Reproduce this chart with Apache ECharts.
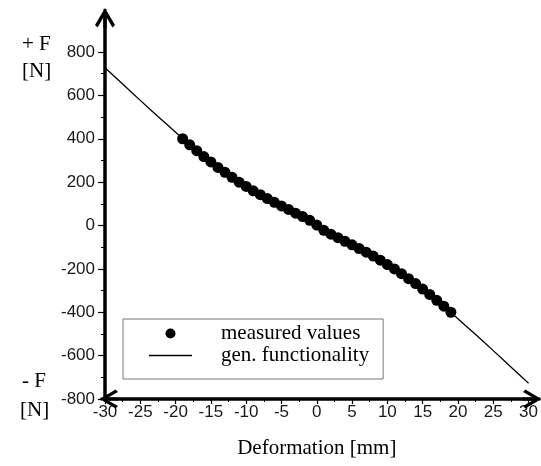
<!DOCTYPE html>
<html>
<head>
<meta charset="utf-8">
<title>force - deformation</title>
<script src="https://cdn.jsdelivr.net/npm/echarts@6/dist/echarts.min.js"></script>
<style>
  html, body { margin: 0; padding: 0; background: #fff; }
  #chart { width: 541px; height: 466px; }
</style>
</head>
<body>
<div id="chart"></div>
<script type="text/javascript">
    // measured points (deformation mm, force N)
    var measuredX = [-19, -18, -17, -16, -15, -14, -13, -12, -11, -10, -9, -8, -7, -6, -5, -4, -3, -2, -1, 0,
                     1, 2, 3, 4, 5, 6, 7, 8, 9, 10, 11, 12, 13, 14, 15, 16, 17, 18, 19];
    var measuredF = [400, 372, 345, 318, 293, 268, 245, 222, 200, 180, 160, 142, 124, 107, 90, 74, 57, 41, 24, 2,
                     -22, -40, -56, -73, -89, -106, -123, -141, -160, -180, -200, -222, -245, -268, -293, -318, -345, -372, -400];
    // generated function curve
    var curveX = [-30, -27.5, -25, -22.5, -20, -17.5, -15, -12.5, -10, -7.5, -5, -2.5, 0,
                  2.5, 5, 7.5, 10, 12.5, 15, 17.5, 20, 22.5, 25, 27.5, 30];
    var curveF = [727, 652, 577, 503, 430, 358, 293, 233, 180, 133, 90, 46, 0,
                  -46, -90, -133, -180, -233, -293, -358, -430, -503, -577, -652, -727];
    var xTicks = { min: -30, max: 30, step: 5 };
    var yTicks = { min: -800, max: 800, step: 200 };

    var serif = "'Liberation Serif', 'Times New Roman', serif";
    var sans = "'Liberation Sans', Arial, sans-serif";
    // open arrow head with stem, tip up
    var arrowPath = 'path://M10,0 L20,17 L17.4,19.4 L10,6.6 L2.6,19.4 L0,17 Z M8.4,1 L11.6,1 L11.6,20 L8.4,20 Z';
    var lineIcon = 'path://M0,0 L100,0 L100,3.6 L0,3.6 Z';

    var measured = measuredX.map(function (x, i) { return [x, measuredF[i]]; });
    var curve = curveX.map(function (x, i) { return [x, curveF[i]]; });

    var chart = echarts.init(document.getElementById('chart'));
    chart.setOption({
        animation: false,
        grid: [
            { left: 105, right: 10, top: 52, bottom: 67 },
            { left: 109, right: 9, top: 52, bottom: 67 },
            { left: 105, right: 10, top: 18, bottom: 67 }
        ],
        legend: {
            orient: 'vertical',
            left: 123,
            top: 319,
            selectedMode: false,
            itemWidth: 43,
            itemHeight: 10,
            itemGap: 1,
            padding: [4, 14, 13, 26],
            borderColor: '#777',
            borderWidth: 1,
            textStyle: { fontFamily: serif, fontSize: 21, color: '#000', padding: [0, 0, 0, 24] },
            data: [
                { name: 'measured values', icon: 'circle' },
                { name: 'gen. functionality', icon: lineIcon }
            ]
        },
        xAxis: [
            {
                type: 'value', gridIndex: 0,
                min: xTicks.min, max: xTicks.max, interval: xTicks.step,
                axisLine: { show: false, onZero: false },
                axisTick: { show: true, length: 5, lineStyle: { color: '#000', width: 1.2 } },
                minorTick: { show: true, splitNumber: 2, length: 3, lineStyle: { color: '#000', width: 1 } },
                splitLine: { show: false },
                axisLabel: { fontFamily: sans, fontSize: 17, color: '#1a1a1a', margin: 5 },
                name: 'Deformation [mm]',
                nameLocation: 'middle',
                nameGap: 39,
                nameTextStyle: { fontFamily: serif, fontSize: 21, color: '#000' }
            },
            {
                type: 'value', gridIndex: 1, min: 0, max: 1,
                axisLine: { show: true, onZero: false, symbol: [arrowPath, arrowPath], symbolSize: [20, 19],
                            lineStyle: { color: '#000', width: 3.5 } },
                axisTick: { show: false }, axisLabel: { show: false }, splitLine: { show: false }
            },
            { type: 'value', gridIndex: 2, show: false }
        ],
        yAxis: [
            {
                type: 'value', gridIndex: 0,
                min: yTicks.min, max: yTicks.max, interval: yTicks.step,
                axisLine: { show: false, onZero: false },
                axisTick: { show: true, length: 7, lineStyle: { color: '#000', width: 1.2 } },
                minorTick: { show: true, splitNumber: 2, length: 4, lineStyle: { color: '#000', width: 1 } },
                splitLine: { show: false },
                axisLabel: { fontFamily: sans, fontSize: 17, color: '#1a1a1a', margin: 10 }
            },
            { type: 'value', gridIndex: 1, show: false },
            {
                type: 'value', gridIndex: 2, min: 0, max: 1,
                axisLine: { show: true, onZero: false, symbol: ['none', arrowPath], symbolSize: [24, 20],
                            lineStyle: { color: '#000', width: 3.5 } },
                axisTick: { show: false }, axisLabel: { show: false }, splitLine: { show: false }
            }
        ],
        graphic: [
            { type: 'text', left: 22, top: 34, style: { text: '+ F', font: '21px ' + serif, fill: '#000' } },
            { type: 'text', left: 22, top: 61, style: { text: '[N]', font: '21px ' + serif, fill: '#000' } },
            { type: 'text', left: 22, top: 371, style: { text: '- F', font: '21px ' + serif, fill: '#000' } },
            { type: 'text', left: 20, top: 400, style: { text: '[N]', font: '21px ' + serif, fill: '#000' } }
        ],
        series: [
            {
                name: 'gen. functionality',
                type: 'line',
                xAxisIndex: 0, yAxisIndex: 0,
                data: curve,
                smooth: true,
                symbol: 'none',
                lineStyle: { color: '#000', width: 1.3 },
                itemStyle: { color: '#000' },
                z: 2
            },
            {
                name: 'measured values',
                type: 'scatter',
                xAxisIndex: 0, yAxisIndex: 0,
                data: measured,
                symbol: 'circle',
                symbolSize: 11,
                itemStyle: { color: '#000', opacity: 1 },
                z: 3
            }
        ]
    });
</script>
</body>
</html>
